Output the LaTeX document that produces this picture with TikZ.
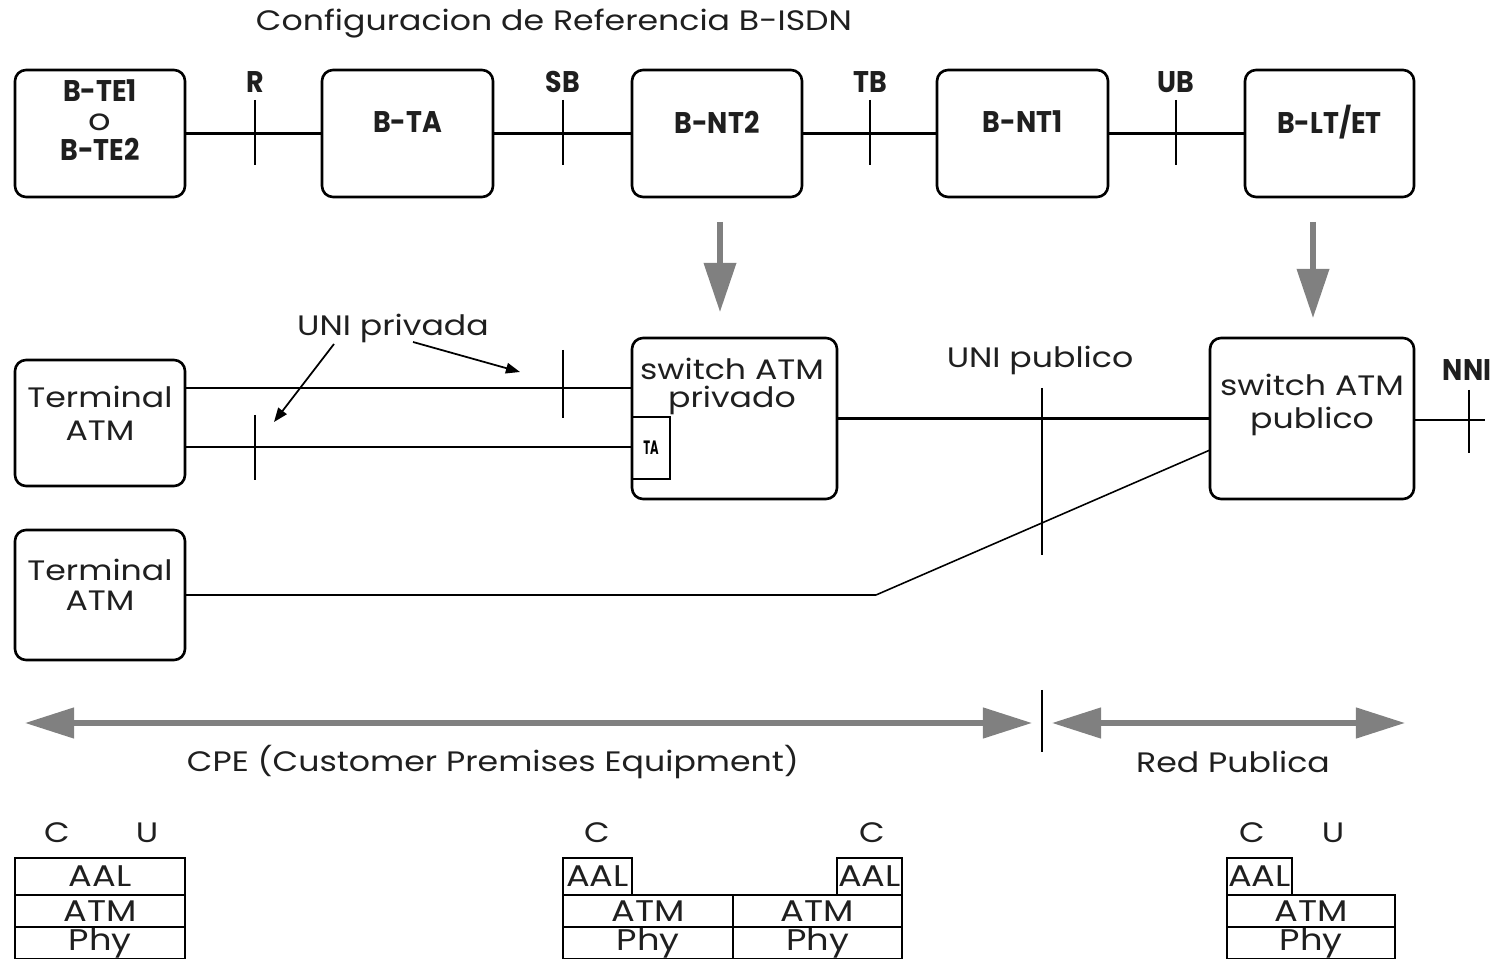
\documentclass[tikz,border=0pt]{standalone}
\usepackage{fontspec}
\setmainfont{Poppins}
\usetikzlibrary{arrows.meta}
\newcommand\pxu[1]{#1*0.02cm}
\newcommand\wx[1]{\scalebox{1.18}[1]{#1}}
\newcommand\nx[1]{\scalebox{0.9}[1]{\bfseries #1}}
\begin{document}
\begin{tikzpicture}[x=0.02cm,y=-0.02cm,
  box/.style={draw,line width=1.5pt,rounded corners=0.22cm,inner sep=0pt},
  lbl/.style={inner sep=0pt,align=center,text=black!88,font=\fontsize{16}{18.7}\selectfont},
  blbl/.style={inner sep=0pt,align=center,text=black!88,font=\fontsize{17}{17}\selectfont},
  conn/.style={line width=1.3pt},
  tick/.style={line width=1.2pt},
  layer/.style={draw,line width=1.4pt,inner sep=0pt,text=black!88,font=\fontsize{17}{17}\selectfont},
  garrow/.style={draw=gray,line width=3pt,-{Triangle[length=28pt,width=18pt]}},
  gdarrow/.style={draw=gray,line width=3pt,{Triangle[length=28pt,width=17pt]}-{Triangle[length=28pt,width=17pt]}},
  barrow/.style={line width=1pt,-{Triangle[length=8pt,width=6pt]}}]
\useasboundingbox (0,0) rectangle (1499,959);

% title
\node[lbl] (title) at (554,24) {\wx{Configuracion de Referencia B-ISDN}};

% top row boxes
\node[box,minimum width=\pxu{170},minimum height=\pxu{127}] (te) at (100,133.5) {};
\node[box,minimum width=\pxu{171},minimum height=\pxu{127}] (ta) at (407.5,133.5) {};
\node[box,minimum width=\pxu{170},minimum height=\pxu{127}] (nt2) at (717,133.5) {};
\node[box,minimum width=\pxu{171},minimum height=\pxu{127}] (nt1) at (1022.5,133.5) {};
\node[box,minimum width=\pxu{169},minimum height=\pxu{127}] (lt) at (1329.5,133.5) {};

\node[blbl,font=\fontsize{17}{17}\selectfont] (tet) at (100,120) {\nx{B-TE1}\\[0pt]\wx{o}\\[0pt]\nx{B-TE2}};
\node[blbl] (tat) at (407.5,122) {\nx{B-TA}};
\node[blbl] (nt2t) at (717,122) {\nx{B-NT2}};
\node[blbl] (nt1t) at (1022.5,122) {\nx{B-NT1}};
\node[blbl] (ltt) at (1329.5,122) {\nx{B-LT/ET}};

\draw[conn] (te) -- (ta);
\draw[conn] (ta) -- (nt2);
\draw[conn] (nt2) -- (nt1);
\draw[conn] (nt1) -- (lt);

% reference points
\coordinate (pR) at (255,135);
\coordinate (pS) at (563,135);
\coordinate (pT) at (870,135);
\coordinate (pU) at (1176,135);
\foreach \p in {pR,pS,pT,pU} \draw[tick] (\p) ++(0,-35) -- ++(0,65);
\node[blbl] (lR) at (255,82) {\nx{R}};
\node[blbl] (lS) at (563,82) {\nx{SB}};
\node[blbl] (lT) at (870,82) {\nx{TB}};
\node[blbl] (lU) at (1176,82) {\nx{UB}};

% gray down arrows
\coordinate (d1a) at (720,222);
\coordinate (d1b) at (720,312);
\coordinate (d2a) at (1313,222);
\coordinate (d2b) at (1313,318);
\draw[garrow] (d1a) -- (d1b);
\draw[garrow] (d2a) -- (d2b);

% middle section
\node[box,minimum width=\pxu{170},minimum height=\pxu{126}] (term1) at (100,423) {};
\node[lbl] (term1t) at (100,413) {\wx{Terminal}\\\wx{ATM}};
\node[box,minimum width=\pxu{205},minimum height=\pxu{161}] (sw1) at (734.5,418.5) {};
\node[lbl,font=\fontsize{16}{15.9}\selectfont] (sw1t) at (732,386) {\wx{switch ATM}\\\wx{privado}};
\node[draw,line width=1.3pt,inner sep=0pt,minimum width=\pxu{38},minimum height=\pxu{62},font=\fontsize{11}{11}\selectfont\bfseries] (tabox) at (651,448) {\scalebox{0.6}[1]{TA}};
\node[box,minimum width=\pxu{204},minimum height=\pxu{161}] (sw2) at (1312,418.5) {};
\node[lbl,font=\fontsize{16}{19.3}\selectfont] (sw2t) at (1312,405) {\wx{switch ATM}\\\wx{publico}};
\node[box,minimum width=\pxu{170},minimum height=\pxu{130}] (term2) at (100,595) {};
\node[lbl,font=\fontsize{16}{17}\selectfont] (term2t) at (100,585) {\wx{Terminal}\\\wx{ATM}};

\coordinate (l1) at (0,388);
\coordinate (l2) at (0,447);
\draw[conn] (term1.east |- l1) -- (sw1.west |- l1);
\draw[conn] (term1.east |- l2) -- (tabox.west |- l2);
\draw[conn] (sw1) -- (sw2);
\coordinate (bend) at (876,595);
\coordinate (sw2in) at (1210,450);
\draw[conn] (term2) -- (bend);
\draw[line width=0.9pt] (bend) -- (sw2in);

% ticks middle
\coordinate (pu1) at (563,350);
\coordinate (pu2) at (255,415);
\draw[tick] (pu1) -- ++(0,68);
\draw[tick] (pu2) -- ++(0,65);
\coordinate (pub) at (1042,388);
\draw[tick] (pub) -- ++(0,167);
\coordinate (nnie) at (1485,420);
\draw[conn] (sw2.east |- nnie) -- (nnie);
\coordinate (nnit) at (1469,390);
\draw[tick] (nnit) -- ++(0,63);

\node[lbl] (unipriv) at (393,328) {\wx{UNI privada}};
\node[lbl] (unipub) at (1040,360) {\wx{UNI publico}};
\node[blbl] (nni) at (1467,370) {\nx{NNI}};

\coordinate (a1s) at (334,344);
\coordinate (a1e) at (274,422);
\coordinate (a2s) at (413,342);
\coordinate (a2e) at (520,372);
\draw[barrow] (a1s) -- (a1e);
\draw[barrow] (a2s) -- (a2e);

% bottom arrows
\coordinate (ba1) at (25,723);
\coordinate (ba2) at (1032,723);
\coordinate (ba3) at (1052,723);
\coordinate (ba4) at (1405,723);
\draw[gdarrow] (ba1) -- (ba2);
\draw[gdarrow] (ba3) -- (ba4);
\coordinate (sep) at (1042,690);
\draw[tick] (sep) -- ++(0,62);
\node[lbl] (cpe) at (493,762) {\wx{CPE (Customer Premises Equipment)}};
\node[lbl] (red) at (1233,762) {\wx{Red Publica}};

% protocol stacks
\node[lbl] (c1) at (57,833) {\wx{C}};
\node[lbl] (u1) at (147,833) {\wx{U}};
\node[layer,minimum width=\pxu{170},minimum height=\pxu{37}] (aal1) at (100,876.5) {\wx{AAL}};
\node[layer,minimum width=\pxu{170},minimum height=\pxu{32}] (atm1) at (100,911) {\wx{ATM}};
\node[layer,minimum width=\pxu{170},minimum height=\pxu{32}] (phy1) at (100,943) {\wx{Phy}};

\node[lbl] (c2) at (597,833) {\wx{C}};
\node[lbl] (c3) at (872,833) {\wx{C}};
\node[layer,minimum width=\pxu{69},minimum height=\pxu{37}] (aal2) at (597.5,876.5) {\wx{AAL}};
\node[layer,minimum width=\pxu{65},minimum height=\pxu{37}] (aal3) at (869.5,876.5) {\wx{AAL}};
\node[layer,minimum width=\pxu{170},minimum height=\pxu{32}] (atm2) at (648,911) {\wx{ATM}};
\node[layer,minimum width=\pxu{169},minimum height=\pxu{32}] (atm3) at (817.5,911) {\wx{ATM}};
\node[layer,minimum width=\pxu{170},minimum height=\pxu{32}] (phy2) at (648,943) {\wx{Phy}};
\node[layer,minimum width=\pxu{169},minimum height=\pxu{32}] (phy3) at (817.5,943) {\wx{Phy}};

\node[lbl] (c4) at (1252,833) {\wx{C}};
\node[lbl] (u4) at (1333,833) {\wx{U}};
\node[layer,minimum width=\pxu{65},minimum height=\pxu{37}] (aal4) at (1259.5,876.5) {\wx{AAL}};
\node[layer,minimum width=\pxu{168},minimum height=\pxu{32}] (atm4) at (1311,911) {\wx{ATM}};
\node[layer,minimum width=\pxu{168},minimum height=\pxu{32}] (phy4) at (1311,943) {\wx{Phy}};
\end{tikzpicture}
\end{document}
